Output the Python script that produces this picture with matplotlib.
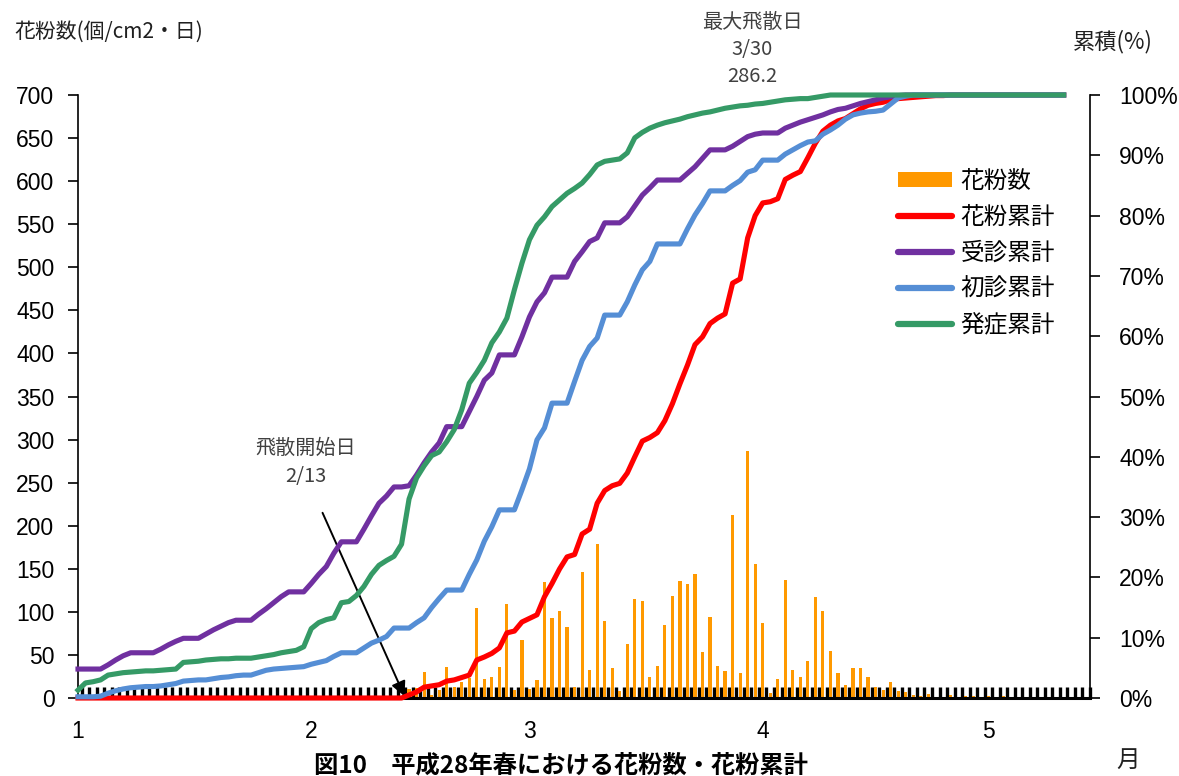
import numpy as np
import pandas as pd
import matplotlib
matplotlib.use("Agg")
import matplotlib.pyplot as plt
from matplotlib.patches import Patch
from matplotlib.lines import Line2D

# 2016-01-01 を 0 日目とする日別データ
season_start = "2016-01-01"
month_labels = ["1", "2", "3", "4", "5"]
scatter_start = "2016-02-13"
peak_text = ["最大飛散日", "3/30", "286.2"]

# 花粉数（個/cm2・日）1/1〜5/14
pollen = [
    0, 0, 0, 0, 0, 0, 0, 0, 0, 0,
    0, 0, 0, 0, 0, 0, 0, 0, 0, 0,
    0, 0, 0, 0, 0, 0, 0, 0, 0, 0,
    0, 0, 0, 0, 0, 0, 0, 0, 0, 0,
    0, 0, 0, 0, 10, 12, 30, 3, 9, 36,
    13, 19, 23, 105, 22, 24, 36, 109, 9, 67,
    10, 21, 135, 93, 101, 83, 13, 146, 32, 179,
    89, 35, 8, 63, 115, 113, 24, 37, 85, 118,
    136, 132, 144, 53, 94, 37, 31, 212.5, 29, 286.2,
    156, 87, 6, 22, 137, 32, 24, 43, 117, 101,
    55, 29, 15, 35, 35, 24, 13, 9, 18, 8,
    7, 3, 2, 5, 0, 0, 3, 0, 2, 2,
    0, 2, 0, 2, 0, 0, 0, 0, 0, 0,
    0, 0, 0, 0, 0,
]

# 累計（%）1/1〜5/11
pollen_cum = [
    0, 0, 0, 0, 0, 0, 0, 0, 0, 0,
    0, 0, 0, 0, 0, 0, 0, 0, 0, 0,
    0, 0, 0, 0, 0, 0, 0, 0, 0, 0,
    0, 0, 0, 0, 0, 0, 0, 0, 0, 0,
    0, 0, 0, 0, 0.5, 1.0, 1.8, 2.0, 2.2, 2.8,
    3.0, 3.4, 3.8, 6.3, 6.8, 7.4, 8.3, 10.8, 11.1, 12.6,
    13.2, 13.8, 16.8, 19.0, 21.4, 23.4, 23.8, 27.2, 28.0, 32.3,
    34.4, 35.2, 35.6, 37.3, 40.0, 42.6, 43.2, 44.0, 46.0, 48.8,
    52.1, 55.2, 58.6, 59.9, 62.1, 63.0, 63.7, 68.8, 69.5, 76.3,
    80.0, 82.1, 82.3, 82.8, 86.0, 86.7, 87.3, 89.6, 92.0, 94.0,
    95.0, 95.7, 96.1, 96.9, 97.7, 98.3, 98.6, 98.8, 99.2, 99.4,
    99.5, 99.6, 99.7, 99.8, 99.9, 99.9, 100, 100, 100, 100,
    100, 100, 100, 100, 100, 100, 100, 100, 100, 100,
    100, 100,
]
visit_cum = [
    4.8, 4.8, 4.8, 4.8, 5.5, 6.3, 7.0, 7.5, 7.5, 7.5,
    7.5, 8.1, 8.8, 9.4, 9.9, 9.9, 9.9, 10.6, 11.3, 11.9,
    12.5, 12.9, 12.9, 12.9, 13.9, 14.8, 15.8, 16.8, 17.6, 17.6,
    17.6, 19.0, 20.5, 21.8, 24.0, 25.9, 25.9, 25.9, 28.0, 30.2,
    32.3, 33.5, 35.0, 35.0, 35.2, 37.0, 39.0, 40.8, 42.3, 45.0,
    45.0, 45.0, 47.5, 50.0, 52.7, 53.9, 56.9, 56.9, 56.9, 59.9,
    63.2, 65.7, 67.2, 69.8, 69.8, 69.8, 72.4, 74.0, 75.7, 76.3,
    78.8, 78.8, 78.8, 79.8, 81.6, 83.4, 84.6, 85.9, 85.9, 85.9,
    85.9, 87.0, 88.1, 89.5, 90.9, 90.9, 90.9, 91.5, 92.3, 93.1,
    93.5, 93.7, 93.7, 93.7, 94.5, 95.0, 95.5, 95.9, 96.3, 96.7,
    97.2, 97.6, 97.8, 98.2, 98.6, 98.9, 99.2, 99.5, 99.7, 99.9,
    100, 100, 100, 100, 100, 100, 100, 100, 100, 100,
    100, 100, 100, 100, 100, 100, 100, 100, 100, 100,
    100, 100,
]
first_visit_cum = [
    0.2, 0.2, 0.2, 0.3, 0.8, 1.2, 1.5, 1.7, 1.8, 1.9,
    1.9, 2.0, 2.2, 2.4, 2.8, 2.9, 3.0, 3.0, 3.2, 3.4,
    3.5, 3.7, 3.8, 3.8, 4.2, 4.6, 4.8, 4.9, 5.0, 5.1,
    5.2, 5.6, 5.9, 6.2, 6.9, 7.5, 7.5, 7.5, 8.3, 9.1,
    9.6, 10.2, 11.6, 11.6, 11.6, 12.5, 13.3, 15.0, 16.5, 17.9,
    17.9, 17.9, 20.5, 22.9, 26.0, 28.4, 31.2, 31.2, 31.2, 34.5,
    38.0, 42.8, 44.8, 48.9, 48.9, 48.9, 52.5, 56.0, 58.3, 59.7,
    63.5, 63.5, 63.5, 65.7, 68.5, 71.0, 72.4, 75.3, 75.3, 75.3,
    75.3, 77.8, 80.1, 82.0, 84.1, 84.1, 84.1, 85.0, 85.8, 87.2,
    87.6, 89.2, 89.2, 89.2, 90.2, 90.9, 91.6, 92.2, 92.4, 93.5,
    94.2, 95.0, 96.0, 96.7, 97.0, 97.2, 97.3, 97.5, 98.5, 99.5,
    99.8, 100, 100, 100, 100, 100, 100, 100, 100, 100,
    100, 100, 100, 100, 100, 100, 100, 100, 100, 100,
    100, 100,
]
onset_cum = [
    1.3, 2.5, 2.7, 3.0, 3.8, 4.0, 4.2, 4.3, 4.4, 4.5,
    4.5, 4.6, 4.7, 4.8, 5.9, 6.0, 6.1, 6.3, 6.4, 6.5,
    6.5, 6.6, 6.6, 6.6, 6.8, 7.0, 7.2, 7.5, 7.7, 7.9,
    8.5, 11.5, 12.5, 13.0, 13.3, 15.8, 16.0, 17.0, 18.5, 20.5,
    22.0, 22.8, 23.5, 25.5, 33.0, 36.5, 38.5, 40.2, 40.8, 42.5,
    44.5, 47.8, 52.2, 54.0, 56.0, 58.9, 60.7, 63.0, 67.7, 72.1,
    76.0, 78.4, 79.8, 81.5, 82.6, 83.7, 84.5, 85.4, 86.8, 88.4,
    89.0, 89.2, 89.4, 90.4, 92.9, 93.8, 94.5, 95.0, 95.4, 95.7,
    96.0, 96.4, 96.7, 97.0, 97.2, 97.5, 97.8, 98.0, 98.2, 98.3,
    98.5, 98.6, 98.8, 99.0, 99.2, 99.3, 99.4, 99.4, 99.6, 99.8,
    100, 100, 100, 100, 100, 100, 100, 100, 100, 100,
    100, 100, 100, 100, 100, 100, 100, 100, 100, 100,
    100, 100, 100, 100, 100, 100, 100, 100, 100, 100,
    100, 100,
]

series = [
    ("花粉累計", pollen_cum, "#FF0000"),
    ("受診累計", visit_cum, "#7030A0"),
    ("初診累計", first_visit_cum, "#558ED5"),
    ("発症累計", onset_cum, "#359A66"),
]

plt.rcParams["font.family"] = ["Liberation Sans", "Noto Sans CJK JP"]
jp = ["Noto Sans CJK JP", "DejaVu Sans"]

W, H = 1179, 776


def fx(px):
    return px / W


def fy(py):
    return 1 - py / H


fig = plt.figure(figsize=(W / 100, H / 100), dpi=100)
ax = fig.add_axes([fx(78), fy(698), fx(1090) - fx(78), fy(95) - fy(698)])
ax2 = ax.twinx()

days = np.arange(len(pollen))
ax.bar(days, pollen, width=0.42, color="#FF9900", zorder=2)

for name, vals, color in series:
    ax2.plot(np.arange(len(vals)), vals, color=color, linewidth=3.7,
             solid_joinstyle="round", clip_on=False)

ax.set_xlim(0, 134.2)
ax.set_ylim(0, 700)
ax2.set_ylim(0, 100)

# 月初めの位置
t0 = pd.Timestamp(season_start)
month_pos = [(pd.Timestamp(2016, int(m), 1) - t0).days for m in month_labels]
ax.set_xticks(month_pos)
ax.set_xticklabels(month_labels)
ax.set_xticks(days + 0.5, minor=True)
ax.tick_params(axis="x", which="major", length=0, pad=16, labelsize=16.5)
ax.tick_params(axis="x", which="minor", direction="in", length=8, width=2.4, color="black")

ax.set_yticks(range(0, 701, 50))
ax.tick_params(axis="y", direction="out", length=7, width=1.2, pad=10, labelsize=16.5)
ax2.set_yticks(range(0, 101, 10))
ax2.set_yticklabels([f"{v}%" for v in range(0, 101, 10)])
ax2.tick_params(axis="y", direction="out", length=7, width=1.2, pad=14, labelsize=16.5)

for s in ["top", "right"]:
    ax.spines[s].set_visible(False)
for s in ["top", "left", "bottom"]:
    ax2.spines[s].set_visible(False)
ax.spines["left"].set_linewidth(1.2)
ax.spines["bottom"].set_linewidth(2.2)
ax2.spines["right"].set_linewidth(1.2)

# 飛散開始日の矢印
start_day = (pd.Timestamp(scatter_start) - t0).days
ax.annotate("", xy=(start_day + 0.4, 2), xytext=(32.5, 215),
            arrowprops=dict(arrowstyle="-|>", color="black", lw=1.4,
                            mutation_scale=22, shrinkA=0, shrinkB=0))

txt = dict(ha="center", va="center", fontsize=14.5, color="#404040", family=jp)
fig.text(fx(306), fy(448), "飛散開始日", **txt)
fig.text(fx(306), fy(476), "2/13", **txt)
for i, t in enumerate(peak_text):
    fig.text(fx(752), fy(22 + 27.5 * i), t, **txt)

fig.text(fx(14), fy(32), "花粉数(個/cm2・日)", ha="left", va="center",
         fontsize=15, color="#202020", family=jp)
fig.text(fx(1073), fy(42), "累積(%)", ha="left", va="center",
         fontsize=16, color="#202020", family=jp)
fig.text(fx(1128), fy(760), "月", ha="center", va="center", fontsize=17,
         color="#202020", family=jp)
fig.text(fx(561), fy(773), "図10　平成28年春における花粉数・花粉累計",
         ha="center", va="baseline", fontsize=17.5, fontweight="bold",
         color="black", family=jp)

handles = [Patch(facecolor="#FF9900", edgecolor="none")]
labels = ["花粉数"]
for name, vals, color in series:
    handles.append(Line2D([], [], color=color, linewidth=4.5, solid_capstyle="round"))
    labels.append(name)
ax2.legend(handles, labels, loc="upper left", bbox_to_anchor=(fx(898), fy(170)),
           bbox_transform=fig.transFigure, frameon=False, borderpad=0,
           borderaxespad=0, prop=dict(family=jp, size=17), handlelength=2.3,
           handletextpad=0.35, labelspacing=0.55, handleheight=0.6)

fig.savefig("out.png", dpi=100)
